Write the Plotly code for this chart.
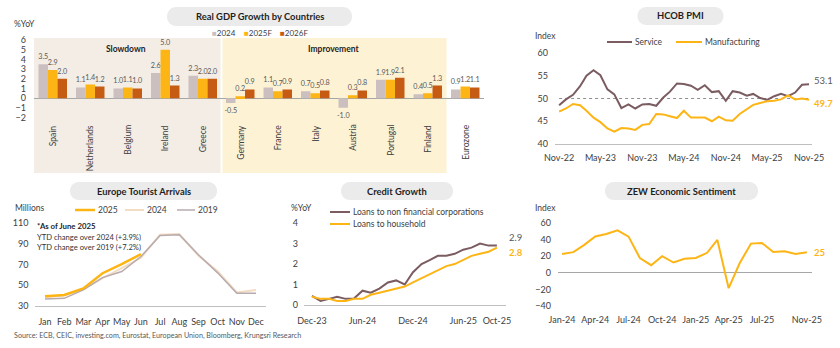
import pandas as pd
import plotly.graph_objects as go

# ---------------------------------------------------------------- data
countries = ["Spain", "Netherlands", "Belgium", "Ireland", "Greece", "Germany",
             "France", "Italy", "Austria", "Portugal", "Finland", "Eurozone"]
gdp_2024 = [3.5, 1.1, 1.0, 2.6, 2.3, -0.5, 1.1, 0.7, -1.0, 1.9, 0.4, 0.9]
gdp_2025f = [2.9, 1.4, 1.1, 5.0, 2.0, 0.2, 0.7, 0.5, 0.3, 1.9, 0.5, 1.2]
gdp_2026f = [2.0, 1.2, 1.0, 1.3, 2.0, 0.9, 0.9, 0.8, 0.8, 2.1, 1.3, 1.1]
gdp_ticks = [-2, -1, 0, 1, 2, 3, 4, 5, 6]
slowdown_count = 5      # Spain .. Greece
improvement_count = 6   # Germany .. Finland

pmi_months = pd.date_range("2022-11-01", "2025-11-01", freq="MS")
pmi_service = [48.5, 49.8, 50.8, 52.7, 55.0, 56.2, 55.1, 52.0, 50.9, 47.9, 48.7, 47.8,
               48.7, 48.8, 48.4, 50.2, 51.5, 53.3, 53.2, 52.8, 51.9, 52.9, 51.4, 51.6,
               49.5, 51.6, 51.3, 50.6, 51.0, 50.1, 49.7, 50.5, 51.0, 50.5, 51.3, 53.0, 53.1]
pmi_manuf = [47.1, 47.8, 48.8, 48.5, 47.3, 45.8, 44.8, 43.4, 42.7, 43.5, 43.4, 43.1,
             44.2, 44.4, 46.6, 46.5, 46.1, 45.7, 47.3, 45.8, 45.8, 45.8, 45.0, 46.0,
             45.2, 45.1, 46.6, 47.6, 48.6, 49.0, 49.4, 49.5, 49.8, 50.7, 49.8, 50.0, 49.7]
pmi_tick_months = ["2022-11-01", "2023-05-01", "2023-11-01", "2024-05-01",
                   "2024-11-01", "2025-05-01", "2025-11-01"]
pmi_tick_text = ["Nov-22", "May-23", "Nov-23", "May-24", "Nov-24", "May-25", "Nov-25"]

months = ["Jan", "Feb", "Mar", "Apr", "May", "Jun",
          "Jul", "Aug", "Sep", "Oct", "Nov", "Dec"]
arrivals_2025 = [39.4, 40.6, 47.0, 61.6, 70.3, 80.0]
arrivals_2024 = [38.4, 40.0, 46.0, 56.8, 66.5, 76.5, 98.7, 99.4, 78.5, 63.5, 43.0, 45.5]
arrivals_2019 = [36.8, 37.4, 45.5, 57.4, 63.2, 77.7, 98.0, 98.7, 79.4, 62.0, 42.3, 42.3]
arrivals_ticks = [30, 50, 70, 90, 110]

credit_months = pd.date_range("2023-12-01", "2025-10-01", freq="MS")
loans_nfc = [0.45, 0.2, 0.3, 0.4, 0.3, 0.32, 0.7, 0.6, 0.8, 1.1, 1.2, 1.0,
             1.6, 2.0, 2.2, 2.4, 2.4, 2.5, 2.7, 2.8, 3.0, 2.9, 2.9]
loans_household = [0.4, 0.3, 0.3, 0.2, 0.2, 0.3, 0.3, 0.5, 0.6, 0.7, 0.8, 0.9,
                   1.1, 1.3, 1.5, 1.7, 1.9, 2.0, 2.2, 2.4, 2.5, 2.6, 2.8]
credit_tick_months = ["2023-12-01", "2024-06-01", "2024-12-01", "2025-06-01", "2025-10-01"]
credit_tick_text = ["Dec-23", "Jun-24", "Dec-24", "Jun-25", "Oct-25"]

zew_months = pd.date_range("2024-01-01", "2025-11-01", freq="MS")
zew_sentiment = [22.7, 25.0, 33.5, 43.9, 47.0, 51.3, 43.7, 17.9, 9.3, 20.1, 12.5, 17.0,
                 18.0, 24.2, 39.8, -18.5, 11.6, 35.3, 36.1, 25.1, 26.1, 22.7, 25.0]
zew_tick_months = ["2024-01-01", "2024-04-01", "2024-07-01", "2024-10-01",
                   "2025-01-01", "2025-04-01", "2025-07-01", "2025-11-01"]
zew_tick_text = ["Jan-24", "Apr-24", "Jul-24", "Oct-24", "Jan-25", "Apr-25", "Jul-25", "Nov-25"]

# ---------------------------------------------------------------- style
W, H = 840, 348
FONT = "Lato"
TXT = "#1f1f1f"
TICK = "#404040"
YEL = "#FDB515"
BROWN = "#7A5C61"
C2024 = "#CBBFBF"
C2026 = "#C65B14"
C2024_LINE = "#F2DCC2"
C2019_LINE = "#B8AAAD"
PILL = "#EBEBEB"
AXIS = "#BFBFBF"


def fx(x):
    return x / W


def fy(y):
    return 1 - y / H


def pill_path(cx, cy, w, h):
    r = h / 2
    x0, x1 = cx - w / 2 + r, cx + w / 2 - r
    y0, y1 = cy - r, cy + r
    k = 4 / 3 * r
    p = lambda x, y: f"{fx(x):.5f},{fy(y):.5f}"
    return (f"M{p(x0, y0)} L{p(x1, y0)} C{p(x1 + k, y0)} {p(x1 + k, y1)} {p(x1, y1)} "
            f"L{p(x0, y1)} C{p(x0 - k, y1)} {p(x0 - k, y0)} {p(x0, y0)} Z")


fig = go.Figure()
shapes = []
annotations = []


def text(x, y, s, size=8.5, color=TXT, bold=False, xanchor="left"):
    annotations.append(dict(
        x=fx(x), y=fy(y), xref="paper", yref="paper", text=f"<b>{s}</b>" if bold else s,
        showarrow=False, xanchor=xanchor, yanchor="middle",
        font=dict(family=FONT, size=size, color=color)))


def title_pill(cx, cy, w, h, s):
    shapes.append(dict(type="path", path=pill_path(cx, cy, w, h), xref="paper", yref="paper",
                       fillcolor=PILL, line=dict(width=0), layer="below"))
    text(cx, cy, s, size=9.4, bold=True, xanchor="center")


def legend_line(x0, x1, y, label, color, width=2):
    shapes.append(dict(type="line", xref="paper", yref="paper", x0=fx(x0), x1=fx(x1),
                       y0=fy(y), y1=fy(y), line=dict(color=color, width=width)))
    text(x1 + 1, y, label, size=8.5, color=TICK)


# ---------------------------------------------------------------- GDP bars
gdp_x = (34, 484)
gdp_yrange = [-2.4, 6.2]
gdp_ytop, gdp_ybot = 38.06, 121.4
for name, vals, col in [("2024", gdp_2024, C2024), ("2025F", gdp_2025f, YEL),
                        ("2026F", gdp_2026f, C2026)]:
    fig.add_trace(go.Bar(
        x=countries, y=vals, name=name, marker=dict(color=col, line=dict(width=0)),
        text=vals, texttemplate="%{y:.1f}", textposition="outside", constraintext="none",
        textfont=dict(family=FONT, size=7.2, color="#595959"), cliponaxis=False,
        xaxis="x", yaxis="y", showlegend=False))

# rotated country names under the bars
for c in countries:
    annotations.append(dict(x=c, y=fy(123), xref="x", yref="paper", text=c, textangle=-90,
                            showarrow=False, xanchor="center", yanchor="top",
                            font=dict(family=FONT, size=8.5, color=TICK)))

# group backgrounds, placed in the x-axis domain so they follow the categories
n_cat = len(countries)
gap = 1 / (gdp_x[1] - gdp_x[0])
shapes.append(dict(type="rect", xref="x domain", yref="paper", x0=0,
                   x1=slowdown_count / n_cat - gap, y0=fy(173), y1=fy(38),
                   fillcolor="#F3EDE6", line=dict(width=0), layer="below"))
shapes.append(dict(type="rect", xref="x domain", yref="paper",
                   x0=slowdown_count / n_cat + gap,
                   x1=(slowdown_count + improvement_count) / n_cat, y0=fy(173), y1=fy(38),
                   fillcolor="#FEF2D4", line=dict(width=0), layer="below"))
text(126, 49, "Slowdown", size=8.5, bold=True, xanchor="center")
text(333, 49, "Improvement", size=8.5, bold=True, xanchor="center")
text(12, 24, "%YoY", size=8.5, color=TICK)
title_pill(259.5, 16.5, 185, 19, "Real GDP Growth by Countries")
for lx, lab, col in [(210, "2024", C2024), (242, "2025F", YEL), (278, "2026F", C2026)]:
    text(lx, 33, f"<span style='color:{col}'>■</span>{lab}", size=8, color=TICK)

# ---------------------------------------------------------------- HCOB PMI
fig.add_trace(go.Scatter(x=pmi_months, y=pmi_service, name="Service", mode="lines",
                         line=dict(color=BROWN, width=2), xaxis="x2", yaxis="y2", showlegend=False))
fig.add_trace(go.Scatter(x=pmi_months, y=pmi_manuf, name="Manufacturing", mode="lines",
                         line=dict(color=YEL, width=2), xaxis="x2", yaxis="y2", showlegend=False))
shapes.append(dict(type="line", xref="x2", yref="y2", x0=pmi_months[0], x1=pmi_months[-1],
                   y0=50, y1=50, line=dict(color="#8C8C8C", width=1, dash="dot"), layer="below"))
annotations.append(dict(x=pmi_months[-1], y=pmi_service[-1], xref="x2", yref="y2",
                        text=f"{pmi_service[-1]:.1f}", showarrow=False, xanchor="left", xshift=3,
                        yshift=4, font=dict(family=FONT, size=9.5, color="#595959")))
annotations.append(dict(x=pmi_months[-1], y=pmi_manuf[-1], xref="x2", yref="y2",
                        text=f"<b>{pmi_manuf[-1]:.1f}</b>", showarrow=False, xanchor="left", xshift=3,
                        yshift=-4, font=dict(family=FONT, size=9.5, color=YEL)))
title_pill(680.5, 16, 86, 18, "HCOB PMI")
text(533, 36, "Index", size=8.5, color=TICK)
legend_line(607, 632, 42, "Service", BROWN)
legend_line(676, 702, 42, "Manufacturing", YEL)

# ---------------------------------------------------------------- tourist arrivals
fig.add_trace(go.Scatter(x=months, y=arrivals_2024, name="2024", mode="lines",
                         line=dict(color=C2024_LINE, width=2), xaxis="x3", yaxis="y3",
                         showlegend=False))
fig.add_trace(go.Scatter(x=months, y=arrivals_2019, name="2019", mode="lines",
                         line=dict(color=C2019_LINE, width=1.5), xaxis="x3", yaxis="y3",
                         showlegend=False))
fig.add_trace(go.Scatter(x=months[:len(arrivals_2025)], y=arrivals_2025, name="2025", mode="lines",
                         line=dict(color=YEL, width=2.5), xaxis="x3", yaxis="y3",
                         showlegend=False))
title_pill(143.5, 191, 147, 18, "Europe Tourist Arrivals")
text(13, 208, "Millions", size=8.5, color=TICK)
legend_line(75, 95, 210, "2025", YEL, width=2.5)
legend_line(125, 144, 210, "2024", C2024_LINE)
legend_line(177, 195, 210, "2019", C2019_LINE, width=1.5)
text(35, 226, "*As of June 2025", size=7.8, bold=True)
text(35, 237, "YTD change over 2024 (+3.9%)", size=7.6, color="#333333")
text(35, 247.5, "YTD change over 2019 (+7.2%)", size=7.6, color="#333333")

# ---------------------------------------------------------------- credit growth
fig.add_trace(go.Scatter(x=credit_months, y=loans_nfc, name="Loans to non financial corporations",
                         mode="lines", line=dict(color=BROWN, width=2), xaxis="x4", yaxis="y4",
                         showlegend=False))
fig.add_trace(go.Scatter(x=credit_months, y=loans_household, name="Loans to household",
                         mode="lines", line=dict(color=YEL, width=2), xaxis="x4", yaxis="y4",
                         showlegend=False))
annotations.append(dict(x=credit_months[-1], y=loans_nfc[-1], xref="x4", yref="y4",
                        text=f"{loans_nfc[-1]:.1f}", showarrow=False, xanchor="left", xshift=10,
                        yshift=8, font=dict(family=FONT, size=9.5, color="#595959")))
annotations.append(dict(x=credit_months[-1], y=loans_household[-1], xref="x4", yref="y4",
                        text=f"<b>{loans_household[-1]:.1f}</b>", showarrow=False, xanchor="left",
                        xshift=10, yshift=-5, font=dict(family=FONT, size=9.5, color=YEL)))
title_pill(397, 191, 112, 18, "Credit Growth")
text(289, 208, "%YoY", size=8.5, color=TICK)
legend_line(330, 350, 212, "Loans to non financial corporations", BROWN)
legend_line(330, 350, 224, "Loans to household", YEL)

# ---------------------------------------------------------------- ZEW
fig.add_trace(go.Scatter(x=zew_months, y=zew_sentiment, name="ZEW", mode="lines",
                         line=dict(color=YEL, width=2), xaxis="x5", yaxis="y5", showlegend=False))
annotations.append(dict(x=zew_months[-1], y=zew_sentiment[-1], xref="x5", yref="y5",
                        text=f"<b>{zew_sentiment[-1]:.0f}</b>", showarrow=False, xanchor="left",
                        xshift=5, font=dict(family=FONT, size=9.5, color=YEL)))
title_pill(681.5, 191, 153, 18, "ZEW Economic Sentiment")
text(533, 208, "Index", size=8.5, color=TICK)

# ---------------------------------------------------------------- footer
text(12, 335, "Source: ECB, CEIC, investing.com, Eurostat, European Union, Bloomberg, Krungsri Research",
     size=7.2, color="#595959")

tickfont = dict(family=FONT, size=9, color=TICK)
base_axis = dict(showgrid=False, zeroline=False, ticks="", tickfont=tickfont, fixedrange=True,
                 automargin=False)

fig.update_layout(
    template="none",
    width=W, height=H, margin=dict(l=0, r=0, t=0, b=0, pad=0),
    paper_bgcolor="white", plot_bgcolor="rgba(0,0,0,0)",
    font=dict(family=FONT, color=TXT), showlegend=False,
    barmode="group", bargap=0.24, bargroupgap=0,
    shapes=shapes, annotations=annotations,
    xaxis=dict(base_axis, domain=[fx(gdp_x[0]), fx(gdp_x[1])], anchor="y", type="category",
               categoryorder="array", categoryarray=countries, range=[-0.5, n_cat - 0.5],
               autorange=False, showticklabels=False, showline=False),
    yaxis=dict(base_axis, domain=[fy(gdp_ybot), fy(gdp_ytop)], anchor="x", range=gdp_yrange,
               autorange=False, tickvals=gdp_ticks, zeroline=True, zerolinecolor="#A6A6A6",
               zerolinewidth=1, ticklabelstandoff=7, showline=False),
    xaxis2=dict(base_axis, domain=[fx(555), fx(812)], anchor="y2", type="date",
                range=["2022-10-14", "2025-11-14"], tickvals=pmi_tick_months,
                ticktext=pmi_tick_text, showline=True, linecolor=AXIS, linewidth=1,
                ticklabelstandoff=5),
    yaxis2=dict(base_axis, domain=[fy(144), fy(48.4)], anchor="x2", range=[40, 61],
                tickvals=[40, 45, 50, 55, 60], ticklabelstandoff=6, showline=False),
    xaxis3=dict(base_axis, domain=[fx(35.4), fx(265.6)], anchor="y3", type="category",
                categoryorder="array", categoryarray=months, range=[-0.5, 11.5],
                showline=True, linecolor=AXIS, linewidth=1, ticklabelstandoff=7),
    yaxis3=dict(base_axis, domain=[fy(306), fy(221)], anchor="x3", range=[30, 112],
                tickvals=arrivals_ticks, ticklabelstandoff=6, showline=False),
    xaxis4=dict(base_axis, domain=[fx(304), fx(506)], anchor="y4", type="date",
                range=["2023-11-02", "2025-11-03"], tickvals=credit_tick_months,
                ticktext=credit_tick_text, showline=True, linecolor=AXIS, linewidth=1,
                ticklabelstandoff=7),
    yaxis4=dict(base_axis, domain=[fy(305), fy(220)], anchor="x4", range=[0, 4.15],
                tickvals=[0, 1, 2, 3, 4], ticklabelstandoff=5, showline=False),
    xaxis5=dict(base_axis, domain=[fx(558), fx(812)], anchor="y5", type="date",
                range=["2023-12-21", "2025-11-15"], tickvals=zew_tick_months,
                ticktext=zew_tick_text, ticklabelstandoff=7, showline=False),
    yaxis5=dict(base_axis, domain=[fy(306), fy(219)], anchor="x5", range=[-40, 65],
                tickvals=[-40, -20, 0, 20, 40, 60], zeroline=True, zerolinecolor="#A6A6A6",
                zerolinewidth=1, ticklabelstandoff=6, showline=False),
)

fig.write_html("out.html")
